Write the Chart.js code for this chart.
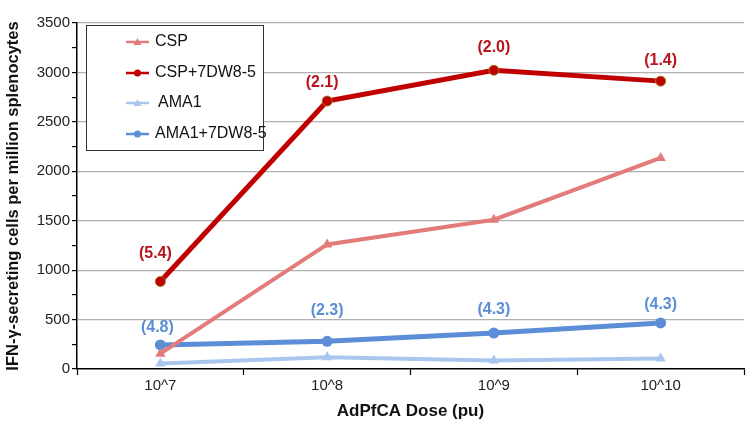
<!DOCTYPE html>
<html>
<head>
<meta charset="utf-8">
<script src="https://cdn.jsdelivr.net/npm/chart.js@4"></script>
<style>
  html, body { margin: 0; padding: 0; background: #fff; }
  #wrap { width: 750px; height: 422px; }
</style>
</head>
<body>
<div id="wrap"><canvas id="doseChart"></canvas></div>
<script>
const doses = ["10^7", "10^8", "10^9", "10^10"];
const csp = [155, 1260, 1510, 2135];
const cspMab = [885, 2710, 3022, 2912];
const ama1 = [55, 118, 85, 106];
const ama1Mab = [244, 280, 364, 466];
const cspMabRatio = ["(5.4)", "(2.1)", "(2.0)", "(1.4)"];
const ama1MabRatio = ["(4.8)", "(2.3)", "(4.3)", "(4.3)"];

const lightRed = "#e37b7b";
const darkRed = "#c00000";
const lightBlue = "#a9c7ee";
const midBlue = "#5b8ed6";
const fontFamily = "'Liberation Sans', Arial, Helvetica, sans-serif";

// how far above each point its ratio label sits (px)
const redLabelLift = [28, 19, 23, 21];
const blueLabelLift = [17, 31, 23, 18];

const ratioLabels = {
    id: "ratioLabels",
    afterDatasetsDraw(chart) {
        const c = chart.ctx;
        c.save();
        c.font = "bold 16px " + fontFamily;
        c.textAlign = "center";
        c.textBaseline = "middle";
        const sets = [
            { idx: 1, text: cspMabRatio, lift: redLabelLift, color: "#b8141c", dx: [-5, -5, 0, 0] },
            { idx: 3, text: ama1MabRatio, lift: blueLabelLift, color: midBlue, dx: [-3, 0, 0, 0] },
        ];
        for (const s of sets) {
            const meta = chart.getDatasetMeta(s.idx);
            c.fillStyle = s.color;
            meta.data.forEach((pt, i) => {
                c.fillText(s.text[i], pt.x + s.dx[i], pt.y - s.lift[i]);
            });
        }
        c.restore();
    }
};

const boxLegend = {
    id: "boxLegend",
    afterDraw(chart) {
        const c = chart.ctx;
        const a = chart.chartArea;
        const x0 = a.left + 9, y0 = a.top + 2, w = 177, h = 125;
        c.save();
        c.fillStyle = "#fff";
        c.fillRect(x0, y0, w, h);
        c.strokeStyle = "#333";
        c.lineWidth = 1;
        c.strokeRect(x0 + 0.5, y0 + 0.5, w, h);
        c.font = "16px " + fontFamily;
        c.textBaseline = "middle";
        const rows = [17, 48, 78, 109];
        chart.data.datasets.forEach((ds, i) => {
            const y = y0 + rows[i];
            c.strokeStyle = ds.borderColor;
            c.lineWidth = 2.5;
            c.beginPath();
            c.moveTo(x0 + 40, y);
            c.lineTo(x0 + 63, y);
            c.stroke();
            c.fillStyle = ds.pointBackgroundColor;
            c.beginPath();
            if (ds.pointStyle === "triangle") {
                c.moveTo(x0 + 51.5, y - 4);
                c.lineTo(x0 + 55.5, y + 3);
                c.lineTo(x0 + 47.5, y + 3);
                c.closePath();
            } else {
                c.arc(x0 + 51.5, y, 3.5, 0, Math.PI * 2);
            }
            c.fill();
            c.fillStyle = "#111";
            c.fillText(ds.label, x0 + (ds.label === "AMA1" ? 72 : 69), y);
        });
        c.restore();
    }
};

new Chart(document.getElementById("doseChart"), {
    type: "line",
    data: {
        labels: doses,
        datasets: [{
            label: "CSP",
            data: csp,
            borderColor: lightRed,
            backgroundColor: lightRed,
            pointBackgroundColor: lightRed,
            pointBorderColor: lightRed,
            pointBorderWidth: 0,
            pointStyle: "triangle",
            pointRadius: 6,
            borderWidth: 4,
            order: 1,
        }, {
            label: "CSP+7DW8-5",
            data: cspMab,
            borderColor: darkRed,
            backgroundColor: darkRed,
            pointBackgroundColor: darkRed,
            pointBorderColor: "#9c7a1e",
            pointBorderWidth: 1,
            pointStyle: "circle",
            pointRadius: 5,
            borderWidth: 5,
            order: 0,
        }, {
            label: "AMA1",
            data: ama1,
            borderColor: lightBlue,
            backgroundColor: lightBlue,
            pointBackgroundColor: lightBlue,
            pointBorderColor: lightBlue,
            pointBorderWidth: 0,
            pointStyle: "triangle",
            pointRadius: 6,
            borderWidth: 4,
            order: 3,
        }, {
            label: "AMA1+7DW8-5",
            data: ama1Mab,
            borderColor: midBlue,
            backgroundColor: midBlue,
            pointBackgroundColor: midBlue,
            pointBorderColor: midBlue,
            pointBorderWidth: 0,
            pointStyle: "circle",
            pointRadius: 5.5,
            borderWidth: 5,
            order: 2,
        }],
    },
    options: {
        responsive: true,
        maintainAspectRatio: false,
        animation: false,
        layout: { padding: { top: 23, right: -3, left: 0, bottom: 0 } },
        plugins: {
            legend: { display: false },
            tooltip: { enabled: false },
        },
        scales: {
            x: {
                offset: true,
                afterFit(scale) { scale.height = 53; },
                grid: {
                    offset: true,
                    drawOnChartArea: false,
                    tickLength: 6,
                    tickColor: "#000",
                    tickWidth: 1.2,
                },
                border: { color: "#000", width: 1.5 },
                ticks: {
                    color: "#222",
                    font: { family: fontFamily, size: 15 },
                    padding: 2,
                },
                title: {
                    display: true,
                    text: "AdPfCA Dose (pu)",
                    color: "#111",
                    font: { family: fontFamily, size: 17, weight: "bold" },
                    padding: { top: 2, bottom: 0 },
                },
            },
            y: {
                min: 0,
                max: 3500,
                afterFit(scale) { scale.width = 77; },
                grid: {
                    color: (ctx) => (ctx.tick && ctx.tick.value % 500 === 0 && ctx.tick.value > 0) ? "#b0b0b0" : "rgba(0,0,0,0)",
                    lineWidth: 1.2,
                    tickColor: "#000",
                    tickLength: 5,
                    tickWidth: 1.2,
                },
                border: { color: "#000", width: 1.5 },
                ticks: {
                    stepSize: 250,
                    autoSkip: false,
                    color: "#222",
                    font: { family: fontFamily, size: 15 },
                    padding: 2,
                    callback: (v) => (v % 500 === 0 ? String(v) : ""),
                },
                title: {
                    display: true,
                    text: "IFN-γ-secreting cells per million splenocytes",
                    color: "#111",
                    font: { family: fontFamily, size: 16.5, weight: "bold" },
                    padding: { top: 4, bottom: 0 },
                },
            },
        },
    },
    plugins: [ratioLabels, boxLegend],
});
</script>
</body>
</html>
